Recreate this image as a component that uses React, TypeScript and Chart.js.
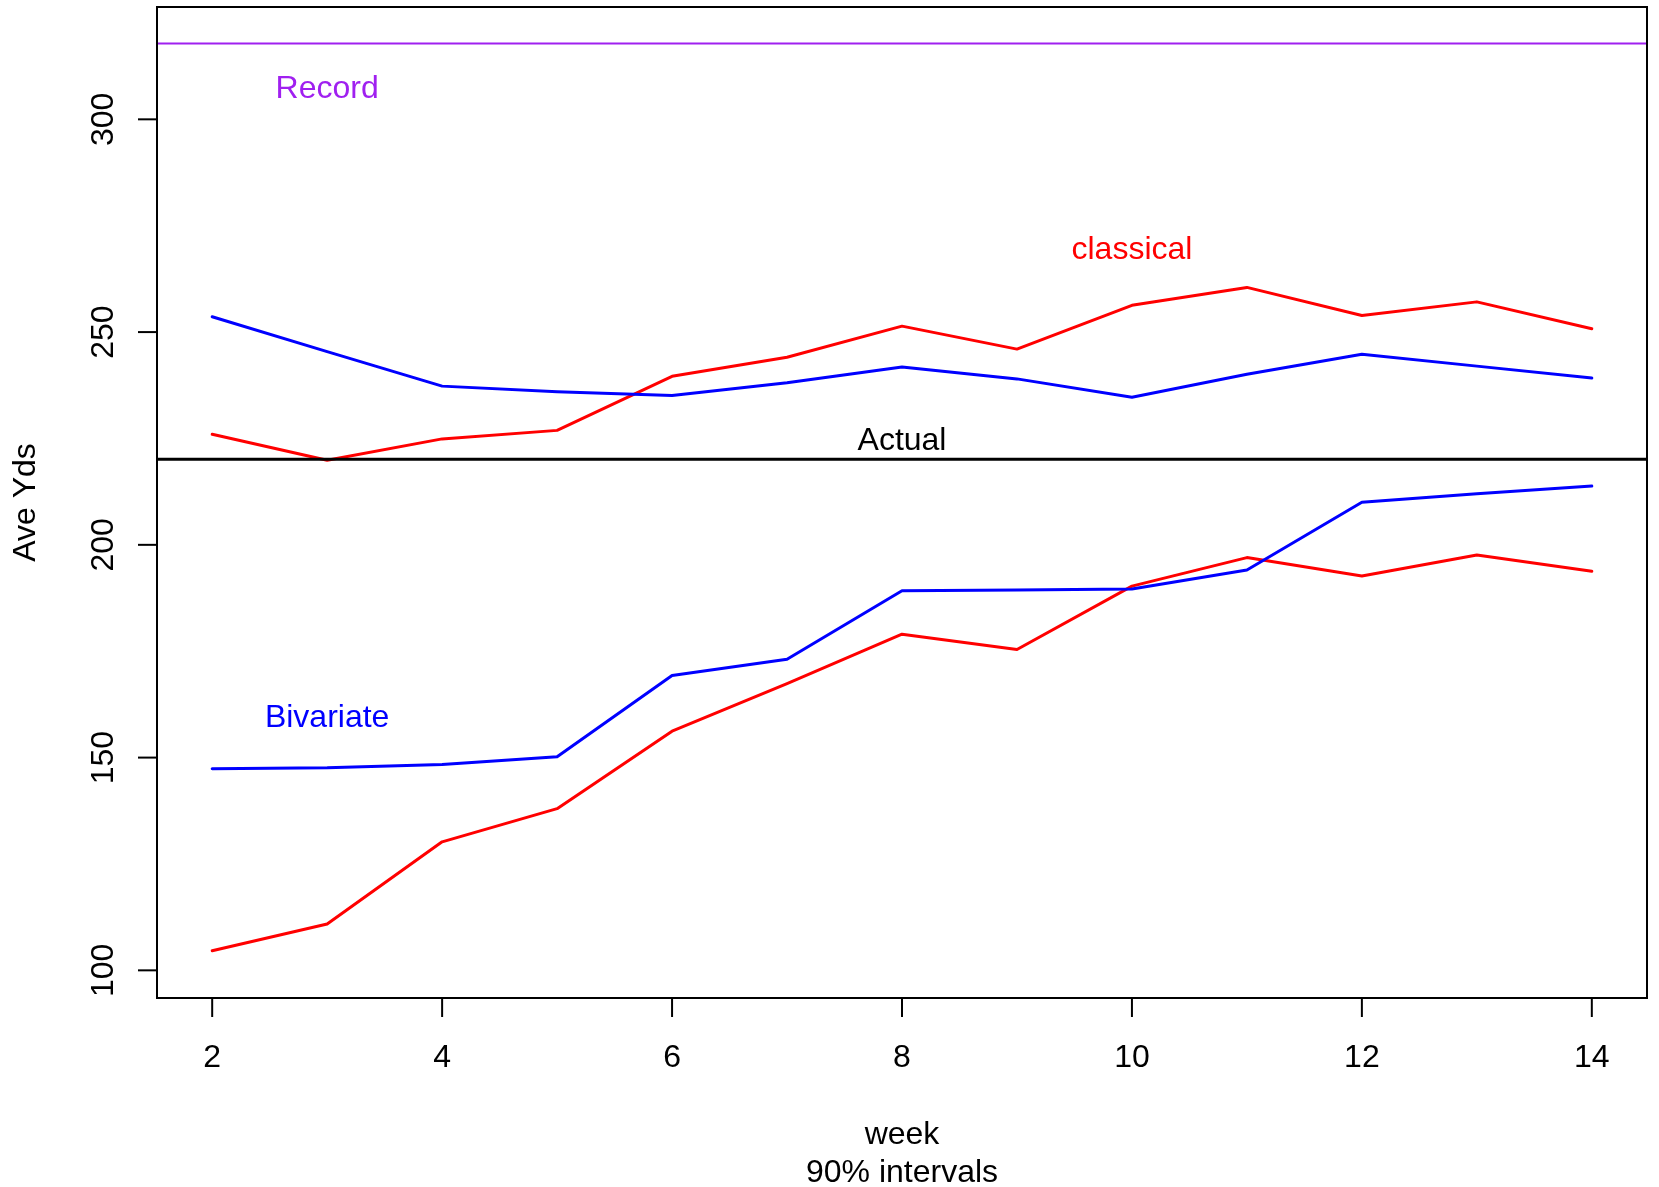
import React, { useEffect, useRef } from "react";
import { Chart, registerables } from "chart.js";

Chart.register(...registerables);

// Weeks on the x axis
const weeks = [2, 3, 4, 5, 6, 7, 8, 9, 10, 11, 12, 13, 14];

// 90% interval bounds, bivariate model
const bivariateUpper = [253.6, 245.4, 237.3, 236.0, 235.1, 238.1, 241.8, 239.0, 234.7, 240.1, 244.8, 242.0, 239.2];
const bivariateLower = [147.4, 147.6, 148.4, 150.2, 169.3, 173.1, 189.2, 189.4, 189.6, 194.1, 210.0, 212.0, 213.8];

// 90% interval bounds, classical model
const classicalUpper = [226.0, 219.9, 224.9, 226.9, 239.6, 244.1, 251.4, 246.0, 256.3, 260.5, 253.9, 257.1, 250.8];
const classicalLower = [104.6, 110.9, 130.2, 138.0, 156.2, 167.4, 179.0, 175.4, 190.3, 197.0, 192.7, 197.6, 193.8];

// Reference levels
const actualYds = 220.1;
const recordYds = 317.8;

// Axis ranges and ticks
const xRange = [1.52, 14.48];
const yRange = [93.5, 326.4];
const xTicks = [2, 4, 6, 8, 10, 12, 14];
const yTicks = [100, 150, 200, 250, 300];

// Text annotations: [text, week, yards, colour]
const annotations: [string, number, number, string][] = [
  ["Record", 3, 307.7, "#A020F0"],
  ["classical", 10, 269.9, "#FF0000"],
  ["Actual", 8, 225.0, "#000000"],
  ["Bivariate", 3, 160.0, "#0000FF"],
];

const xTitle = "week";
const subTitle = "90% intervals";
const yTitle = "Ave Yds";

const FONT = '32px "Liberation Sans", Arial, Helvetica, sans-serif';
const CAP = 11.5; // half the cap height at 32px

const toPoints = (ys: number[]) => weeks.map((w, i) => ({ x: w, y: ys[i] }));
const hLine = (y: number) => [
  { x: xRange[0], y },
  { x: xRange[1], y },
];

const frame = {
  id: "baseFrame",
  afterDraw(chart: any) {
    const { ctx, chartArea: a, scales } = chart;
    const xs = scales.x;
    const ys = scales.y;
    ctx.save();
    ctx.strokeStyle = "#000";
    ctx.lineWidth = 2;
    ctx.strokeRect(a.left, a.top, a.right - a.left, a.bottom - a.top);

    ctx.fillStyle = "#000";
    ctx.font = FONT;

    // x axis ticks and labels
    ctx.textAlign = "center";
    ctx.textBaseline = "alphabetic";
    for (const t of xTicks) {
      const px = xs.getPixelForValue(t);
      ctx.beginPath();
      ctx.moveTo(px, a.bottom);
      ctx.lineTo(px, a.bottom + 19);
      ctx.stroke();
      ctx.fillText(String(t), px, a.bottom + 69);
    }

    // y axis ticks and rotated labels
    for (const t of yTicks) {
      const py = ys.getPixelForValue(t);
      ctx.beginPath();
      ctx.moveTo(a.left, py);
      ctx.lineTo(a.left - 19, py);
      ctx.stroke();
      ctx.save();
      ctx.translate(a.left - 44, py);
      ctx.rotate(-Math.PI / 2);
      ctx.fillText(String(t), 0, 0);
      ctx.restore();
    }

    // axis titles
    const cx = (a.left + a.right) / 2;
    ctx.fillText(xTitle, cx, a.bottom + 146);
    ctx.fillText(subTitle, cx, a.bottom + 184);
    ctx.save();
    ctx.translate(35, (a.top + a.bottom) / 2);
    ctx.rotate(-Math.PI / 2);
    ctx.fillText(yTitle, 0, 0);
    ctx.restore();

    // in-plot labels
    for (const [text, wx, wy, col] of annotations) {
      ctx.fillStyle = col;
      ctx.fillText(text, xs.getPixelForValue(wx), ys.getPixelForValue(wy) + CAP);
    }
    ctx.restore();
  },
};

export default function App() {
  const ref = useRef<HTMLCanvasElement | null>(null);

  useEffect(() => {
    if (!ref.current) return;
    const line = (data: any[], color: string, width: number) => ({
      data,
      borderColor: color,
      backgroundColor: color,
      borderWidth: width,
      pointRadius: 0,
      tension: 0,
      fill: false,
      borderJoinStyle: "round" as const,
      borderCapStyle: "round" as const,
    });
    const chart = new Chart(ref.current, {
      type: "line",
      data: {
        datasets: [
          line(hLine(recordYds), "#A020F0", 2),
          line(hLine(actualYds), "#000000", 3),
          line(toPoints(bivariateUpper), "#0000FF", 3),
          line(toPoints(bivariateLower), "#0000FF", 3),
          line(toPoints(classicalUpper), "#FF0000", 3),
          line(toPoints(classicalLower), "#FF0000", 3),
        ],
      },
      options: {
        animation: false,
        responsive: false,
        devicePixelRatio: 1,
        layout: { padding: { left: 157, top: 7, right: 12, bottom: 189 } },
        plugins: { legend: { display: false }, tooltip: { enabled: false } },
        scales: {
          x: { type: "linear", min: xRange[0], max: xRange[1], display: false },
          y: { type: "linear", min: yRange[0], max: yRange[1], display: false },
        },
      },
      plugins: [frame],
    });
    return () => chart.destroy();
  }, []);

  return (
    <div style={{ position: "absolute", left: 0, top: 0, width: 1659, height: 1187, background: "#fff" }}>
      <canvas ref={ref} width={1659} height={1187} />
    </div>
  );
}
